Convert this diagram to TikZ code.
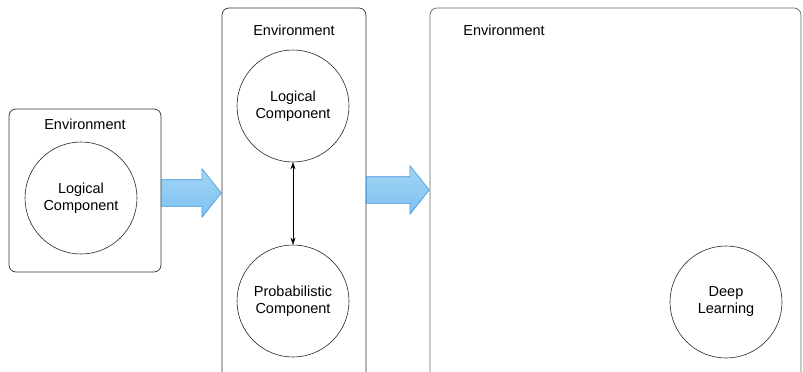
\documentclass[tikz,border=0pt]{standalone}
\usepackage{fontspec}
\setmainfont{Liberation Sans}
\usetikzlibrary{positioning,shapes.arrows,arrows.meta}

\definecolor{arrowfill}{HTML}{7CC2F1}
\definecolor{arrowedge}{HTML}{3C92DA}

\begin{document}
\begin{tikzpicture}[x=1pt,y=-1pt,
	line width=0.7pt,line cap=round,line join=round,
	font=\fontsize{14.5}{17}\selectfont,
	envbox/.style={draw=black!80,rounded corners=7pt,inner sep=0pt},
	comp/.style={draw=black!85,circle,minimum size=112pt,inner sep=0pt,
		align=center,line width=0.6pt},
	bigarrow/.style={single arrow,draw=arrowedge,top color=arrowfill!70,
		bottom color=arrowfill,single arrow head extend=11pt,
		single arrow tip angle=103,inner xsep=0pt,inner ysep=13pt,
		line width=0.6pt,anchor=tip}]

	\useasboundingbox (0,0) rectangle (803,372);

	% environments
	\node [envbox,minimum width=152pt,minimum height=163pt] (env1) at (85,190.5) {};
	\node [envbox,minimum width=144pt,minimum height=374pt] (env2) at (294,195) {};
	\node [envbox,draw=black!60,minimum width=371pt,minimum height=374pt] (env3) at (615.5,195) {};

	\node [below=7pt of env1.north] {Environment};
	\node [below=14pt of env2.north] {Environment};
	\node [below right=14pt and 30pt of env3.north west] {Environment};

	% components
	\node [comp] (logic1) at (81,198) {Logical\\Component};
	\node [comp] (logic2) at (293,106) {Logical\\Component};
	\node [comp] (prob) at (293,301) {Probabilistic\\Component};
	\node [comp] (deep) at (726,302) {Deep\\Learning};

	% transitions, tips resting on the next box
	\node [bigarrow,minimum height=60pt] (arr1) at ([yshift=2pt]env2.west) {};
	\node [bigarrow,minimum height=63pt] (arr2) at ([yshift=5pt]env3.west) {};

	\draw [{Stealth[length=7pt,width=5pt]}-{Stealth[length=7pt,width=5pt]},line width=0.5pt]
		(logic2.south) -- (prob.north);
\end{tikzpicture}
\end{document}
